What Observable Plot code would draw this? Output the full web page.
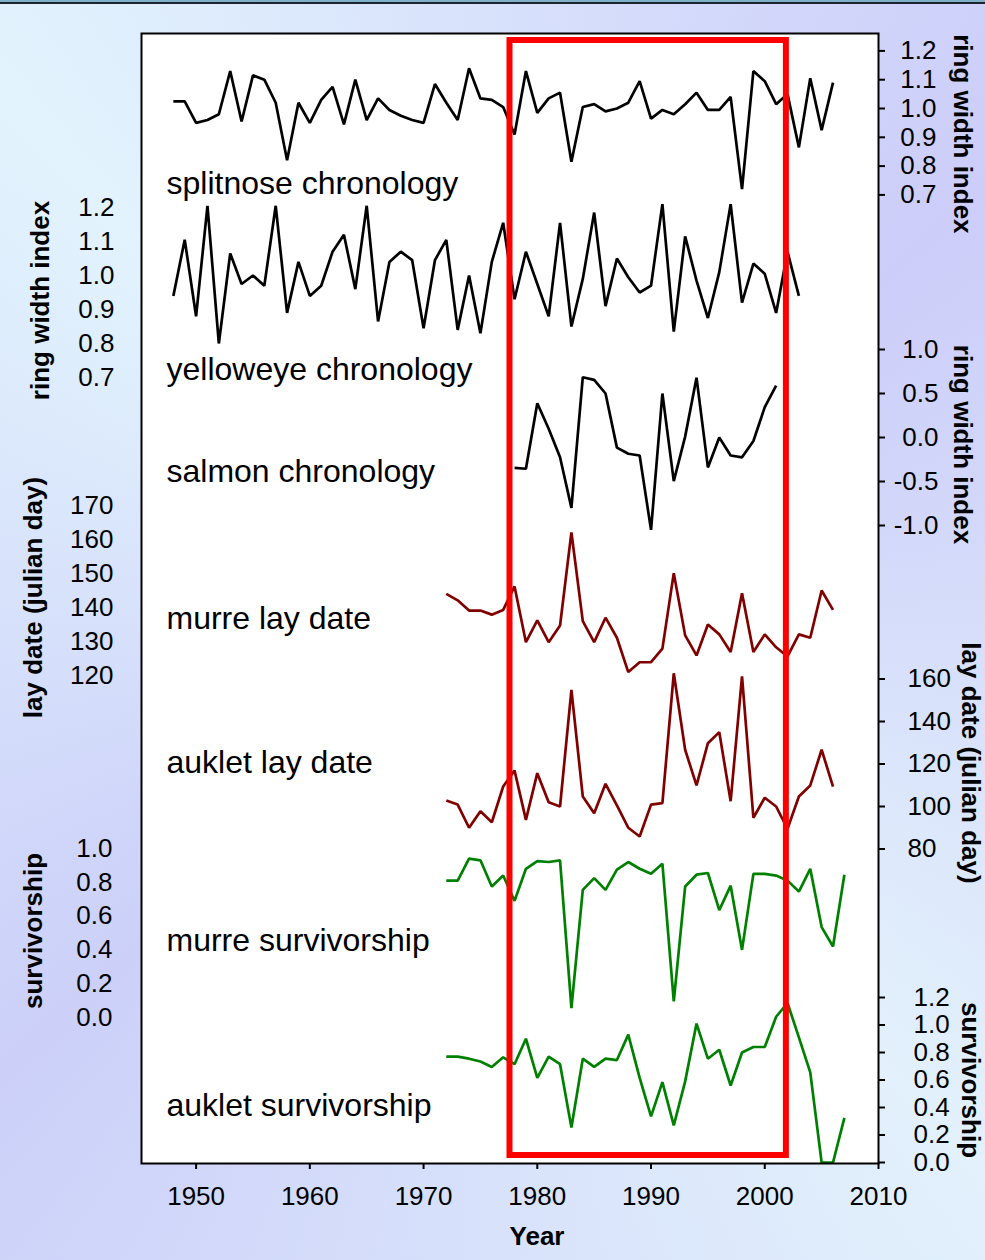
<!DOCTYPE html>
<html><head><meta charset="utf-8">
<script src="https://cdn.jsdelivr.net/npm/d3@7"></script>
<script src="https://cdn.jsdelivr.net/npm/@observablehq/plot@0.6"></script>
<style>
html,body{margin:0;padding:0;}
body{width:985px;height:1260px;overflow:hidden;}
#chart{position:relative;width:985px;height:1260px;
  background: conic-gradient(from 318deg at 50% 50%, #e2f3fd 0deg, #cccdf9 90deg, #e2f1fc 180deg, #ccd0f9 270deg, #e2f3fd 360deg);}
#chart svg{position:absolute;left:0;top:0;}
#topbar{position:absolute;left:0;top:0;width:985px;height:2px;background:#7fb0c8;border-bottom:2px solid #1a2530;}
</style></head><body><div id="chart"><div id="topbar"></div></div>
<script>
// ---------- data ----------
const splitnoseYears = d3.range(1948, 2007);
const splitnose = [1.025,1.025,0.95,0.96,0.98,1.13,0.955,1.115,1.10,1.02,0.82,1.02,0.95,1.03,1.075,0.945,1.10,0.96,1.035,0.995,0.975,0.96,0.95,1.085,1.02,0.96,1.14,1.035,1.03,1.005,
  0.91,1.13,0.985,1.035,1.055,0.815,1.005,1.015,0.99,1.00,1.02,1.095,0.965,0.995,0.98,1.015,1.055,0.995,0.995,1.04,0.72,1.13,1.095,1.015,1.05,0.865,1.105,0.925,1.09];

const yelloweyeYears = d3.range(1948, 2004);
const yelloweye = [0.94,1.105,0.88,1.205,0.80,1.065,0.975,1.00,0.97,1.205,0.89,1.04,0.94,0.97,1.07,1.12,0.96,1.205,0.865,1.04,1.07,1.045,0.845,1.045,1.105,0.84,1.00,0.83,1.04,1.155,
  0.93,1.07,0.975,0.88,1.155,0.85,0.99,1.185,0.91,1.05,0.995,0.95,0.97,1.21,0.835,1.115,0.985,0.875,1.01,1.21,0.92,1.035,1.005,0.89,1.07,0.94];

const salmonYears = d3.range(1978, 2002);
const salmon = [-0.345,-0.355,0.39,0.10,-0.225,-0.80,0.685,0.655,0.50,-0.115,-0.185,-0.205,-1.05,0.50,-0.495,0.01,0.68,-0.34,0.00,-0.205,-0.225,-0.04,0.345,0.59];

const layYears = d3.range(1972, 2007);
const murreLay = [144.0,142.1,139.1,139.1,137.9,139.3,146.2,129.8,136.2,129.8,134.7,162.1,136.0,129.8,137.0,131.1,121.0,123.9,123.9,127.9,150.1,131.8,125.9,135.0,132.1,126.9,144.2,126.9,132.1,128.3,125.6,132.1,131.1,145.0,139.3];
const aukletLay = [102.8,100.9,90.0,97.8,92.6,109.4,116.9,93.7,115.7,102.0,100.0,154.9,104.7,96.8,110.7,100.5,90.0,85.9,100.9,101.6,162.7,126.7,109.9,129.8,135.0,102.5,161.2,94.7,104.1,100.0,89.5,104.7,109.9,126.7,109.4];

const survYears = d3.range(1972, 2008);
const murreSurv = [0.81,0.81,0.94,0.93,0.775,0.84,0.69,0.88,0.925,0.92,0.93,0.055,0.755,0.825,0.755,0.875,0.92,0.88,0.85,0.91,0.095,0.775,0.845,0.855,0.635,0.78,0.40,0.85,0.85,0.84,0.81,0.745,0.88,0.535,0.42,0.845];
const aukletSurv = [0.77,0.77,0.755,0.735,0.695,0.765,0.715,0.90,0.615,0.77,0.715,0.255,0.755,0.695,0.755,0.745,0.93,0.615,0.335,0.585,0.27,0.59,1.01,0.755,0.82,0.56,0.80,0.84,0.84,1.06,1.16,0.91,0.655,0.0,0.0,0.325];

const highlightYears = [1977.6, 2001.9];

// tick labels
const yearTicks = [1950,1960,1970,1980,1990,2000,2010];
const ringTicksRight = [0.7,0.8,0.9,1.0,1.1,1.2];
const ringTicksLeft = [0.7,0.8,0.9,1.0,1.1,1.2];
const salmonTicks = [-1.0,-0.5,0.0,0.5,1.0];
const murreLayTicks = [120,130,140,150,160,170];
const aukletLayTicks = [80,100,120,140,160];
const murreSurvTicks = [0.0,0.2,0.4,0.6,0.8,1.0];
const aukletSurvTicks = [0.0,0.2,0.4,0.6,0.8,1.0,1.2];

// ---------- layout ----------
const W = 985, H = 1260, ML = 141, MR = 107, MT = 33, MB = 97;
const xDomain = [1945.2, 2010];
const FONT = '"Liberation Sans", Arial, Helvetica, sans-serif';
const f1 = d => d.toFixed(1);
const f0 = d => d.toFixed(0);

const series = [
  {name:"splitnose chronology", years:splitnoseYears, values:splitnose, color:"#000000", domain:[0.7,1.2], top:50.4, bottom:194.4,
   side:"right", ticks:ringTicksRight, fmt:f1, ta:"end", pad:52, tick:6, title:"ring width index", tdx:84, tdy:11, ndy:-11},
  {name:"yelloweye chronology", years:yelloweyeYears, values:yelloweye, color:"#000000", domain:[0.7,1.2], top:207, bottom:377,
   side:"left", ticks:ringTicksLeft, fmt:f1, ta:"end", pad:27, tick:0, title:"ring width index", tdx:-101, tdy:8, ndy:-8},
  {name:"salmon chronology", years:salmonYears, values:salmon, color:"#000000", domain:[-1,1], top:349, bottom:525,
   side:"right", ticks:salmonTicks, fmt:f1, ta:"end", pad:54, tick:6, title:"ring width index", tdx:84, tdy:7, ndy:-54},
  {name:"murre lay date", years:layYears, values:murreLay, color:"#800000", domain:[120,170], top:505, bottom:675,
   side:"left", ticks:murreLayTicks, fmt:f0, ta:"end", pad:28, tick:0, title:"lay date (julian day)", tdx:-108, tdy:7, ndy:-57},
  {name:"auklet lay date", years:layYears, values:aukletLay, color:"#800000", domain:[80,160], top:678.5, bottom:848.5,
   side:"right", ticks:aukletLayTicks, fmt:f0, ta:"start", pad:23, tick:6, title:"lay date (julian day)", tdx:92, tdy:-1, ndy:-86},
  {name:"murre survivorship", years:survYears, values:murreSurv, color:"#008000", domain:[0,1], top:848, bottom:1017,
   side:"left", ticks:murreSurvTicks, fmt:f1, ta:"end", pad:29, tick:0, title:"survivorship", tdx:-108, tdy:-2, ndy:-77},
  {name:"auklet survivorship", years:survYears, values:aukletSurv, color:"#008000", domain:[0,1.2], top:997, bottom:1162,
   side:"right", ticks:aukletSurvTicks, fmt:f1, ta:"start", pad:29, tick:6, title:"survivorship", tdx:92, tdy:0, ndy:-57}
];

const baseStyle = {background:"transparent", fontFamily:FONT, fontSize:"26px", color:"black", overflow:"visible"};

const chartDiv = document.getElementById("chart");

// base: white plot area + x axis
const basePlot = Plot.plot({
  width: W, height: H, marginLeft: ML, marginRight: MR, marginTop: MT, marginBottom: MB,
  x: {domain: xDomain, axis: null, label: null},
  y: {domain: [0, 1], axis: null},
  style: baseStyle,
  marks: [
    Plot.frame({fill: "white", stroke: "none"}),
    Plot.axisX({ticks: yearTicks, tickFormat: "d", tickSize: 6, tickPadding: 17, strokeWidth: 2, fontSize: 26, label: null}),
    Plot.text(["Year"], {frameAnchor: "bottom", dx: 27, dy: 73, fontWeight: "bold", fontSize: 26, textAnchor: "middle", lineAnchor: "middle"})
  ]
});
chartDiv.append(basePlot);

for (const s of series) {
  const data = s.values.map((v, i) => ({year: s.years[i], value: v}));
  const anchor = s.side;
  const p = Plot.plot({
    width: W, height: H, marginLeft: ML, marginRight: MR, marginTop: s.top, marginBottom: H - s.bottom,
    x: {domain: xDomain, axis: null},
    y: {domain: s.domain, axis: null, label: null},
    style: baseStyle,
    marks: [
      Plot.axisY({anchor, ticks: s.ticks, tickFormat: s.fmt, tickSize: s.tick, tickPadding: s.pad, textAnchor: s.ta,
                  strokeWidth: 2, fontSize: 26, label: null}),
      Plot.line(data, {x: "year", y: "value", stroke: s.color, strokeWidth: 2.7, strokeLinejoin: "miter", strokeLinecap: "butt"}),
      Plot.text([s.name], {frameAnchor: "bottom-left", dx: 25, dy: s.ndy, textAnchor: "start", lineAnchor: "middle", fontSize: 32}),
      Plot.text([s.title], {frameAnchor: anchor, dx: s.tdx, dy: s.tdy, rotate: anchor === "right" ? 90 : -90,
                  textAnchor: "middle", lineAnchor: "middle", fontWeight: "bold", fontSize: 26})
    ]
  });
  chartDiv.append(p);
}

// top: highlight box + frame
const overlayPlot = Plot.plot({
  width: W, height: H, marginLeft: ML, marginRight: MR, marginTop: MT, marginBottom: MB,
  x: {domain: xDomain, axis: null},
  y: {domain: [0, 1], axis: null},
  style: baseStyle,
  marks: [
    Plot.rect([highlightYears], {x1: d => d[0], x2: d => d[1], fill: "none", stroke: "#ff0000", strokeWidth: 6, insetTop: 7, insetBottom: 8}),
    Plot.frame({stroke: "black", strokeWidth: 2})
  ]
});
chartDiv.append(overlayPlot);
</script></body></html>
